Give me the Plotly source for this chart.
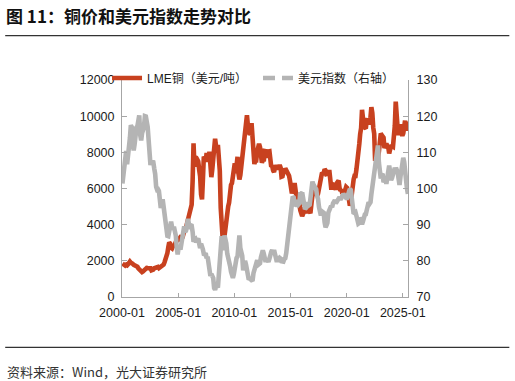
import plotly.graph_objects as go
import pandas as pd

# ---------------- data (monthly) ----------------
copper = [
    # 2000
    1850, 1800, 1740, 1740, 1780, 1750, 1810, 1870, 1960, 1900, 1820, 1830,
    # 2001
    1780, 1760, 1740, 1670, 1680, 1580, 1520, 1460, 1440, 1380, 1410, 1470,
    # 2002
    1510, 1560, 1610, 1600, 1600, 1650, 1590, 1480, 1480, 1520, 1590, 1600,
    # 2003
    1650, 1680, 1660, 1600, 1640, 1690, 1710, 1760, 1790, 1920, 2050, 2200,
    # 2004
    2420, 2760, 3010, 2950, 2730, 2690, 2810, 2850, 2900, 3040, 3130, 3150,
    # 2005
    3170, 3250, 3380, 3390, 3250, 3520, 3620, 3800, 3860, 4060, 4270, 4580,
    # 2006
    4730, 4980, 5100, 6390, 8500, 7200, 7710, 7690, 7600, 7500, 7030, 6680,
    # 2007
    5670, 5400, 6450, 7770, 7660, 7480, 7970, 7510, 7650, 8030, 6970, 6630,
    # 2008
    7060, 7890, 8440, 8750, 8380, 8260, 8410, 7640, 6990, 4930, 3800, 3300,
    # 2009
    3350, 3400, 3750, 4410, 4570, 5010, 5220, 6170, 6200, 6290, 6680, 6980,
    # 2010
    7390, 6850, 7460, 7750, 6840, 6500, 6740, 7280, 7710, 8290, 8470, 9150,
    # 2011
    9560, 10050, 9530, 9490, 8960, 9060, 9620, 9000, 8300, 7350, 7580, 7570,
    # 2012
    8040, 8440, 8470, 8290, 7960, 7420, 7580, 7510, 8070, 8060, 7710, 7960,
    # 2013
    8050, 8060, 7650, 7200, 7250, 7000, 6910, 7190, 7160, 7200, 7070, 7210,
    # 2014
    7290, 7150, 6650, 6670, 6890, 6820, 7110, 7000, 6870, 6740, 6710, 6440,
    # 2015
    5830, 5730, 5940, 6040, 6300, 5830, 5460, 5130, 5220, 5220, 4800, 4640,
    # 2016
    4470, 4600, 4950, 4870, 4690, 4640, 4870, 4750, 4720, 4730, 5450, 5660,
    # 2017
    5750, 5940, 5820, 5680, 5600, 5720, 5990, 6480, 6580, 6810, 6830, 6830,
    # 2018
    7070, 7000, 6800, 6840, 6830, 7020, 6250, 6050, 6050, 6220, 6190, 6070,
    # 2019
    5940, 6300, 6440, 6440, 6030, 5880, 5940, 5710, 5760, 5740, 5860, 6080,
    # 2020
    6030, 5690, 5180, 5050, 5240, 5730, 6370, 6500, 6700, 6700, 7070, 7770,
    # 2021
    7970, 8460, 9000, 9340, 10350, 9610, 9440, 9360, 9320, 9780, 9770, 9550,
    # 2022
    9780, 9940, 10500, 10180, 9360, 9030, 7530, 7980, 7750, 7650, 8050, 8370,
    # 2023
    9040, 8950, 8850, 8820, 8230, 8390, 8490, 8350, 8270, 7940, 8170, 8390,
    # 2024
    8340, 8310, 8680, 9470, 10800, 9640, 9350, 8950, 9270, 9560, 9060, 8920,
    # 2025
    9050, 9350, 9750, 9200, 9500, 9700,
]

dxy = [
    # 2000
    101.4, 104.4, 105.3, 107.6, 110.4, 106.7, 108.5, 111.4, 114.0, 117.5, 117.0, 112.5,
    # 2001
    110.5, 112.3, 115.5, 116.9, 117.2, 119.3, 120.2, 114.8, 113.3, 115.3, 116.4, 117.0,
    # 2002
    120.0, 119.9, 118.5, 117.0, 113.5, 110.6, 106.5, 107.5, 107.2, 107.3, 105.5, 104.0,
    # 2003
    100.5, 99.7, 99.8, 99.3, 94.6, 94.6, 96.0, 97.0, 95.0, 92.3, 92.0, 89.0,
    # 2004
    86.9, 86.8, 88.6, 89.7, 90.8, 89.4, 88.7, 89.4, 88.6, 87.0, 83.7, 81.8,
    # 2005
    83.7, 84.0, 83.1, 84.9, 86.2, 88.7, 89.5, 88.0, 88.4, 90.0, 91.6, 90.3,
    # 2006
    88.8, 89.8, 89.7, 88.0, 85.3, 85.8, 86.0, 85.1, 85.8, 86.2, 84.8, 83.5,
    # 2007
    84.7, 84.2, 83.2, 81.9, 81.8, 82.1, 80.7, 81.2, 79.3, 77.6, 75.8, 76.4,
    # 2008
    75.6, 75.2, 72.5, 72.0, 72.9, 73.0, 72.6, 75.8, 78.2, 83.3, 86.8, 83.0,
    # 2009
    84.0, 87.0, 86.2, 84.8, 82.0, 80.1, 79.5, 78.6, 77.0, 76.0, 75.3, 76.3,
    # 2010
    78.0, 80.2, 80.8, 81.2, 85.4, 87.0, 83.5, 82.0, 81.4, 77.4, 78.4, 80.0,
    # 2011
    79.0, 77.4, 76.5, 74.8, 75.1, 74.9, 74.4, 74.4, 76.6, 77.5, 77.9, 79.4,
    # 2012
    80.2, 78.9, 79.3, 79.3, 81.0, 82.3, 82.9, 82.0, 79.8, 79.7, 80.6, 79.9,
    # 2013
    79.7, 80.6, 82.5, 82.5, 83.0, 81.9, 83.0, 81.5, 81.0, 79.7, 80.6, 80.4,
    # 2014
    80.8, 80.6, 79.9, 79.8, 79.8, 80.5, 80.7, 82.1, 84.3, 85.8, 87.7, 88.8,
    # 2015
    92.5, 94.5, 97.8, 97.5, 95.2, 95.5, 96.8, 95.7, 95.6, 95.9, 98.9, 98.6,
    # 2016
    98.9, 97.2, 95.9, 94.3, 94.6, 95.0, 96.2, 95.3, 95.5, 97.6, 99.5, 101.9,
    # 2017
    101.1, 100.7, 100.5, 99.8, 97.9, 97.1, 94.9, 93.3, 92.5, 93.7, 93.6, 93.3,
    # 2018
    90.6, 89.3, 89.8, 90.5, 93.3, 94.6, 94.6, 95.2, 94.8, 95.9, 96.7, 96.8,
    # 2019
    95.9, 96.5, 96.7, 97.2, 97.6, 96.9, 97.2, 97.9, 98.5, 98.0, 98.0, 97.4,
    # 2020
    97.4, 98.7, 99.5, 99.9, 99.6, 96.9, 95.0, 93.0, 93.2, 93.4, 92.4, 90.5,
    # 2021
    90.3, 90.5, 91.9, 91.5, 90.1, 90.9, 92.4, 92.8, 92.9, 93.9, 95.4, 96.2,
    # 2022
    95.8, 96.2, 98.4, 100.4, 103.3, 103.9, 106.9, 107.1, 111.5, 111.9, 107.1, 104.4,
    # 2023
    102.8, 103.8, 104.1, 101.7, 102.5, 102.9, 101.3, 103.3, 105.2, 106.3, 104.6, 102.3,
    # 2024
    102.9, 104.1, 103.9, 105.7, 105.1, 105.2, 104.5, 102.3, 101.0, 103.2, 106.0, 107.3,
    # 2025
    108.5, 107.3, 104.1, 100.7, 100.0, 98.5,
]

x_tick_labels = ["2000-01", "2005-01", "2010-01", "2015-01", "2020-01", "2025-01"]
y_left_ticks = [0, 2000, 4000, 6000, 8000, 10000, 12000]
y_right_ticks = [70, 80, 90, 100, 110, 120, 130]

series_names = ["LME铜（美元/吨）", "美元指数（右轴）"]
title_text = "图 11：铜价和美元指数走势对比"
source_text = "资料来源：Wind，光大证券研究所"

# ---------------- layout helpers ----------------
# page body margin is removed by a post script, so page pixels == figure pixels
W, H = 515, 381
L, R, T, B = 122, 408.5, 80, 297


def px(x):
    return (x - L) / (R - L)


def py(y):
    return (B - y) / (B - T)


RED = "#C8411F"
GREY = "#B4B4B4"
AXIS = "#A6A6A6"
LATIN = "Liberation Sans, Arial, Noto Sans CJK SC, sans-serif"
CJK = "Liberation Sans, Noto Sans CJK SC, sans-serif"

dates = pd.date_range("2000-01-01", periods=len(copper), freq="MS") + pd.Timedelta(days=14)
tick_dates = [pd.Timestamp(t + "-01") for t in x_tick_labels]

fig = go.Figure()
fig.add_trace(go.Scatter(
    x=dates, y=copper, name=series_names[0], mode="lines",
    line=dict(color=RED, width=4.6), showlegend=True,
))
fig.add_trace(go.Scatter(
    x=dates, y=dxy[:len(dates)], name=series_names[1], mode="lines", yaxis="y2",
    line=dict(color=GREY, width=4.6), showlegend=False,
))
# legend-only entry for the dashed grey sample
fig.add_trace(go.Scatter(
    x=[None], y=[None], name=series_names[1], mode="lines", yaxis="y2",
    line=dict(color=GREY, width=4.4, dash="12px,7px"), showlegend=True,
))

fig.update_layout(
    width=W, height=H,
    margin=dict(l=L, r=W - R, t=T, b=H - B, pad=0),
    paper_bgcolor="white", plot_bgcolor="white",
    font=dict(family=LATIN, size=12.5, color="#1a1a1a"),
    xaxis=dict(
        type="date",
        range=[pd.Timestamp("2000-01-01"), pd.Timestamp("2025-06-18")],
        tickvals=tick_dates, ticktext=x_tick_labels,
        showline=True, linecolor=AXIS, linewidth=1,
        ticks="inside", ticklen=4, tickcolor=AXIS, tickwidth=1,
        showgrid=False, zeroline=False,
        tickfont=dict(family=LATIN, size=12.5, color="#1a1a1a"),
        ticklabelstandoff=4,
    ),
    yaxis=dict(
        range=[0, 12000], tickvals=y_left_ticks, tickformat="d",
        showline=True, linecolor=AXIS, linewidth=1,
        ticks="inside", ticklen=5, tickcolor=AXIS, tickwidth=1,
        showgrid=False, zeroline=False,
        tickfont=dict(family=LATIN, size=12.5, color="#1a1a1a"),
        ticklabelstandoff=4,
    ),
    yaxis2=dict(
        range=[70, 130], tickvals=y_right_ticks, overlaying="y", side="right",
        showline=True, linecolor=AXIS, linewidth=1,
        ticks="inside", ticklen=5, tickcolor=AXIS, tickwidth=1,
        showgrid=False, zeroline=False,
        tickfont=dict(family=LATIN, size=12.5, color="#1a1a1a"),
        ticklabelstandoff=5,
    ),
    legend=dict(
        orientation="h", x=px(107), y=py(78), xanchor="left", yanchor="middle",
        bgcolor="rgba(0,0,0,0)", borderwidth=0,
        font=dict(family=CJK, size=12, color="#1a1a1a"),
        traceorder="normal", entrywidth=106, entrywidthmode="pixels",
    ),
    showlegend=True,
    hovermode=False,
)

fig.add_annotation(
    text="<b>" + title_text + "</b>", xref="paper", yref="paper",
    x=px(5), y=py(15.5), xanchor="left", yanchor="middle", showarrow=False,
    borderpad=0,
    font=dict(family="Noto Sans CJK SC, sans-serif", size=17, color="#111"),
)
fig.add_annotation(
    text=source_text, xref="paper", yref="paper",
    x=px(5), y=py(371.5), xanchor="left", yanchor="middle", showarrow=False,
    font=dict(family="Noto Sans CJK SC, sans-serif", size=13, color="#333"),
)
for yline in (35.7, 347.3):
    fig.add_shape(
        type="line", xref="paper", yref="paper",
        x0=px(5), x1=px(510), y0=py(yline), y1=py(yline),
        line=dict(color="#333", width=1.2),
    )

fig.write_html(
    "out.html",
    config={"displayModeBar": False},
    post_script="document.body.style.margin='0';document.body.style.overflow='hidden';",
)
